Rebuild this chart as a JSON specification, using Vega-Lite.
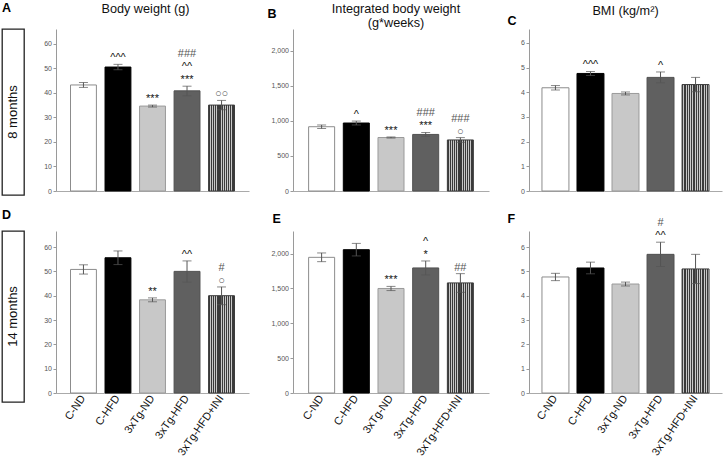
{
  "$schema": "https://vega.github.io/schema/vega-lite/v6.json",
  "padding": {"top": 0, "left": 1, "right": 2, "bottom": 0},
  "background": "white",
  "datasets": {
    "bars": [
      {"id": "A|C-ND", "panel": "A", "group": "C-ND", "mean": 43.2, "lo": 42.2, "hi": 44.2},
      {"id": "A|C-HFD", "panel": "A", "group": "C-HFD", "mean": 50.5, "lo": 49.4, "hi": 51.6},
      {"id": "A|3xTg-ND", "panel": "A", "group": "3xTg-ND", "mean": 34.6, "lo": 34.2, "hi": 35.0},
      {"id": "A|3xTg-HFD", "panel": "A", "group": "3xTg-HFD", "mean": 40.8, "lo": 38.8, "hi": 42.7},
      {"id": "A|3xTg-HFD+INI", "panel": "A", "group": "3xTg-HFD+INI", "mean": 35.0, "lo": 33.1, "hi": 36.9},
      {"id": "B|C-ND", "panel": "B", "group": "C-ND", "mean": 918, "lo": 893, "hi": 943},
      {"id": "B|C-HFD", "panel": "B", "group": "C-HFD", "mean": 971, "lo": 943, "hi": 999},
      {"id": "B|3xTg-ND", "panel": "B", "group": "3xTg-ND", "mean": 764, "lo": 756, "hi": 772},
      {"id": "B|3xTg-HFD", "panel": "B", "group": "3xTg-HFD", "mean": 808, "lo": 780, "hi": 836},
      {"id": "B|3xTg-HFD+INI", "panel": "B", "group": "3xTg-HFD+INI", "mean": 729, "lo": 695, "hi": 763},
      {"id": "C|C-ND", "panel": "C", "group": "C-ND", "mean": 4.18, "lo": 4.09, "hi": 4.27},
      {"id": "C|C-HFD", "panel": "C", "group": "C-HFD", "mean": 4.76, "lo": 4.68, "hi": 4.84},
      {"id": "C|3xTg-ND", "panel": "C", "group": "3xTg-ND", "mean": 3.95, "lo": 3.89, "hi": 4.01},
      {"id": "C|3xTg-HFD", "panel": "C", "group": "3xTg-HFD", "mean": 4.6, "lo": 4.38, "hi": 4.82},
      {"id": "C|3xTg-HFD+INI", "panel": "C", "group": "3xTg-HFD+INI", "mean": 4.31, "lo": 4.02, "hi": 4.6},
      {"id": "D|C-ND", "panel": "D", "group": "C-ND", "mean": 50.8, "lo": 48.9, "hi": 52.7},
      {"id": "D|C-HFD", "panel": "D", "group": "C-HFD", "mean": 55.6, "lo": 52.8, "hi": 58.4},
      {"id": "D|3xTg-ND", "panel": "D", "group": "3xTg-ND", "mean": 38.3, "lo": 37.5, "hi": 39.1},
      {"id": "D|3xTg-HFD", "panel": "D", "group": "3xTg-HFD", "mean": 50.0, "lo": 45.6, "hi": 54.3},
      {"id": "D|3xTg-HFD+INI", "panel": "D", "group": "3xTg-HFD+INI", "mean": 40.0, "lo": 36.3, "hi": 43.6},
      {"id": "E|C-ND", "panel": "E", "group": "C-ND", "mean": 1947, "lo": 1885, "hi": 2010},
      {"id": "E|C-HFD", "panel": "E", "group": "C-HFD", "mean": 2057, "lo": 1967, "hi": 2147},
      {"id": "E|3xTg-ND", "panel": "E", "group": "3xTg-ND", "mean": 1500, "lo": 1470, "hi": 1530},
      {"id": "E|3xTg-HFD", "panel": "E", "group": "3xTg-HFD", "mean": 1795, "lo": 1695, "hi": 1895},
      {"id": "E|3xTg-HFD+INI", "panel": "E", "group": "3xTg-HFD+INI", "mean": 1580, "lo": 1445, "hi": 1713},
      {"id": "F|C-ND", "panel": "F", "group": "C-ND", "mean": 4.77, "lo": 4.62, "hi": 4.92},
      {"id": "F|C-HFD", "panel": "F", "group": "C-HFD", "mean": 5.14, "lo": 4.9, "hi": 5.38},
      {"id": "F|3xTg-ND", "panel": "F", "group": "3xTg-ND", "mean": 4.48, "lo": 4.4, "hi": 4.56},
      {"id": "F|3xTg-HFD", "panel": "F", "group": "3xTg-HFD", "mean": 5.7, "lo": 5.2, "hi": 6.2},
      {"id": "F|3xTg-HFD+INI", "panel": "F", "group": "3xTg-HFD+INI", "mean": 5.1, "lo": 4.5, "hi": 5.7}
    ],
    "ann": [
      {"id": "A|C-HFD", "panel": "A", "sym": "^^^", "lvl": 0},
      {"id": "A|3xTg-ND", "panel": "A", "sym": "***", "lvl": 0},
      {"id": "A|3xTg-HFD", "panel": "A", "sym": "***", "lvl": 0},
      {"id": "A|3xTg-HFD", "panel": "A", "sym": "^^", "lvl": 1},
      {"id": "A|3xTg-HFD", "panel": "A", "sym": "###", "lvl": 2},
      {"id": "A|3xTg-HFD+INI", "panel": "A", "sym": "○○", "lvl": 0},
      {"id": "B|C-HFD", "panel": "B", "sym": "^", "lvl": 0},
      {"id": "B|3xTg-ND", "panel": "B", "sym": "***", "lvl": 0},
      {"id": "B|3xTg-HFD", "panel": "B", "sym": "***", "lvl": 0},
      {"id": "B|3xTg-HFD", "panel": "B", "sym": "###", "lvl": 1},
      {"id": "B|3xTg-HFD+INI", "panel": "B", "sym": "○", "lvl": 0},
      {"id": "B|3xTg-HFD+INI", "panel": "B", "sym": "###", "lvl": 1},
      {"id": "C|C-HFD", "panel": "C", "sym": "^^^", "lvl": 0},
      {"id": "C|3xTg-HFD", "panel": "C", "sym": "^", "lvl": 0},
      {"id": "D|3xTg-ND", "panel": "D", "sym": "**", "lvl": 0},
      {"id": "D|3xTg-HFD", "panel": "D", "sym": "^^", "lvl": 0},
      {"id": "D|3xTg-HFD+INI", "panel": "D", "sym": "○", "lvl": 0},
      {"id": "D|3xTg-HFD+INI", "panel": "D", "sym": "#", "lvl": 1},
      {"id": "E|3xTg-ND", "panel": "E", "sym": "***", "lvl": 0},
      {"id": "E|3xTg-HFD", "panel": "E", "sym": "*", "lvl": 0},
      {"id": "E|3xTg-HFD", "panel": "E", "sym": "^", "lvl": 1},
      {"id": "E|3xTg-HFD+INI", "panel": "E", "sym": "##", "lvl": 0},
      {"id": "F|3xTg-HFD", "panel": "F", "sym": "^^", "lvl": 0},
      {"id": "F|3xTg-HFD", "panel": "F", "sym": "#", "lvl": 1}
    ]
  },
  "columns": 4,
  "align": "each",
  "spacing": {"row": 11, "column": 18},
  "concat": [
    {
      "width": 22, "height": 166,
      "view": {"stroke": "#222", "strokeWidth": 1.3},
      "title": {"text": "A", "anchor": "start", "fontWeight": "bold", "fontSize": 12.5, "offset": 15, "color": "#000"},
      "data": {"values": [{"label": "8 months"}]},
      "mark": {"type": "text", "angle": 270, "fontSize": 13, "color": "#111"},
      "encoding": {"text": {"field": "label"}}
    },
    {
      "width": 193, "height": 162,
      "title": {"text": "Body weight (g)", "offset": 13, "dx": -7},
      "resolve": {"axis": {"y": "independent"}},
      "encoding": {"x": {"field": "group", "type": "nominal", "scale": {"domain": ["C-ND","C-HFD","3xTg-ND","3xTg-HFD","3xTg-HFD+INI"], "paddingInner": 0.25, "paddingOuter": 0.42}, "axis": {"title": null, "labels": false, "ticks": false, "domainColor": "#aaaaaa", "domainWidth": 1.2}}},
      "layer": [
        {"data": {"name": "bars"}, "transform": [{"filter": "datum.panel === 'A' && datum.group !== '3xTg-HFD+INI'"}],
         "mark": {"type": "bar", "strokeWidth": 1},
         "encoding": {
           "y": {"field": "mean", "type": "quantitative", "scale": {"domain": [0, 66], "nice": false}, "axis": {"title": null, "values": [0,10,20,30,40,50,60]}},
           "fill": {"field": "group", "type": "nominal", "scale": {"domain": ["C-ND","C-HFD","3xTg-ND","3xTg-HFD","3xTg-HFD+INI"], "range": ["#ffffff","#000000","#c8c8c8","#606060","#666666"]}, "legend": null},
           "stroke": {"field": "group", "type": "nominal", "scale": {"domain": ["C-ND","C-HFD","3xTg-ND","3xTg-HFD","3xTg-HFD+INI"], "range": ["#8c8c8c","#000000","#9a9a9a","#505050","#3a3a3a"]}, "legend": null}}},
        {"data": {"name": "bars"}, "transform": [{"filter": "datum.panel === 'A' && datum.group === '3xTg-HFD+INI'"}],
         "mark": {"type": "bar", "stroke": "#3a3a3a", "strokeWidth": 1, "fill": {"gradient": "linear", "x1": 0, "y1": 0, "x2": 1, "y2": 0, "stops": [{"offset": 0, "color": "#3a3a3a"}, {"offset": 0.05, "color": "#3a3a3a"}, {"offset": 0.05, "color": "#c8c8c8"}, {"offset": 0.0833, "color": "#c8c8c8"}, {"offset": 0.0833, "color": "#3a3a3a"}, {"offset": 0.1333, "color": "#3a3a3a"}, {"offset": 0.1333, "color": "#c8c8c8"}, {"offset": 0.1667, "color": "#c8c8c8"}, {"offset": 0.1667, "color": "#3a3a3a"}, {"offset": 0.2167, "color": "#3a3a3a"}, {"offset": 0.2167, "color": "#c8c8c8"}, {"offset": 0.25, "color": "#c8c8c8"}, {"offset": 0.25, "color": "#3a3a3a"}, {"offset": 0.3, "color": "#3a3a3a"}, {"offset": 0.3, "color": "#c8c8c8"}, {"offset": 0.3333, "color": "#c8c8c8"}, {"offset": 0.3333, "color": "#3a3a3a"}, {"offset": 0.3833, "color": "#3a3a3a"}, {"offset": 0.3833, "color": "#c8c8c8"}, {"offset": 0.4167, "color": "#c8c8c8"}, {"offset": 0.4167, "color": "#3a3a3a"}, {"offset": 0.4667, "color": "#3a3a3a"}, {"offset": 0.4667, "color": "#c8c8c8"}, {"offset": 0.5, "color": "#c8c8c8"}, {"offset": 0.5, "color": "#3a3a3a"}, {"offset": 0.55, "color": "#3a3a3a"}, {"offset": 0.55, "color": "#c8c8c8"}, {"offset": 0.5833, "color": "#c8c8c8"}, {"offset": 0.5833, "color": "#3a3a3a"}, {"offset": 0.6333, "color": "#3a3a3a"}, {"offset": 0.6333, "color": "#c8c8c8"}, {"offset": 0.6667, "color": "#c8c8c8"}, {"offset": 0.6667, "color": "#3a3a3a"}, {"offset": 0.7167, "color": "#3a3a3a"}, {"offset": 0.7167, "color": "#c8c8c8"}, {"offset": 0.75, "color": "#c8c8c8"}, {"offset": 0.75, "color": "#3a3a3a"}, {"offset": 0.8, "color": "#3a3a3a"}, {"offset": 0.8, "color": "#c8c8c8"}, {"offset": 0.8333, "color": "#c8c8c8"}, {"offset": 0.8333, "color": "#3a3a3a"}, {"offset": 0.8833, "color": "#3a3a3a"}, {"offset": 0.8833, "color": "#c8c8c8"}, {"offset": 0.9167, "color": "#c8c8c8"}, {"offset": 0.9167, "color": "#3a3a3a"}, {"offset": 0.9667, "color": "#3a3a3a"}, {"offset": 0.9667, "color": "#c8c8c8"}, {"offset": 1, "color": "#c8c8c8"}]}},
         "encoding": {"y": {"field": "mean", "type": "quantitative", "axis": null}}},
        {"data": {"name": "bars"}, "transform": [{"filter": "datum.panel === 'A'"}],
         "mark": {"type": "errorbar", "ticks": {"size": 9}, "color": "#555", "thickness": 1},
         "encoding": {"y": {"field": "lo", "type": "quantitative", "axis": null}, "y2": {"field": "hi"}}},
        {"data": {"name": "ann"}, "transform": [{"filter": "datum.panel === 'A' && datum.lvl === 0"}, {"lookup": "id", "from": {"data": {"name": "bars"}, "key": "id", "fields": ["hi", "group"]}}],
         "mark": {"type": "text", "style": "ann", "dy": -3},
         "encoding": {"y": {"field": "hi", "type": "quantitative", "axis": null}, "text": {"field": "sym"},
           "fontSize": {"condition": [{"test": "indexof(datum.sym,'^')>=0", "value": 15}, {"test": "indexof(datum.sym,'*')>=0", "value": 12}, {"test": "indexof(datum.sym,'#')>=0", "value": 9}], "value": 8},
           "color": {"condition": {"test": "indexof(datum.sym,'#')>=0 || indexof(datum.sym,'○')>=0", "value": "#555555"}, "value": "#111111"}}},
        {"data": {"name": "ann"}, "transform": [{"filter": "datum.panel === 'A' && datum.lvl === 1"}, {"lookup": "id", "from": {"data": {"name": "bars"}, "key": "id", "fields": ["hi", "group"]}}],
         "mark": {"type": "text", "style": "ann", "dy": -16},
         "encoding": {"y": {"field": "hi", "type": "quantitative", "axis": null}, "text": {"field": "sym"},
           "fontSize": {"condition": [{"test": "indexof(datum.sym,'^')>=0", "value": 15}, {"test": "indexof(datum.sym,'*')>=0", "value": 12}, {"test": "indexof(datum.sym,'#')>=0", "value": 9}], "value": 8},
           "color": {"condition": {"test": "indexof(datum.sym,'#')>=0 || indexof(datum.sym,'○')>=0", "value": "#555555"}, "value": "#111111"}}},
        {"data": {"name": "ann"}, "transform": [{"filter": "datum.panel === 'A' && datum.lvl === 2"}, {"lookup": "id", "from": {"data": {"name": "bars"}, "key": "id", "fields": ["hi", "group"]}}],
         "mark": {"type": "text", "style": "ann", "dy": -29},
         "encoding": {"y": {"field": "hi", "type": "quantitative", "axis": null}, "text": {"field": "sym"},
           "fontSize": {"condition": [{"test": "indexof(datum.sym,'^')>=0", "value": 15}, {"test": "indexof(datum.sym,'*')>=0", "value": 12}, {"test": "indexof(datum.sym,'#')>=0", "value": 9}], "value": 8},
           "color": {"condition": {"test": "indexof(datum.sym,'#')>=0 || indexof(datum.sym,'○')>=0", "value": "#555555"}, "value": "#111111"}}}
      ]
    },
    {
      "width": 196, "height": 162,
      "title": {"text": ["Integrated body weight", "(g*weeks)"], "offset": -23, "dx": 5},
      "resolve": {"axis": {"y": "independent"}},
      "encoding": {"x": {"field": "group", "type": "nominal", "scale": {"domain": ["C-ND","C-HFD","3xTg-ND","3xTg-HFD","3xTg-HFD+INI"], "paddingInner": 0.25, "paddingOuter": 0.45}, "axis": {"title": null, "labels": false, "ticks": false, "domainColor": "#aaaaaa", "domainWidth": 1.2}}},
      "layer": [
        {"data": {"name": "bars"}, "transform": [{"filter": "datum.panel === 'B' && datum.group !== '3xTg-HFD+INI'"}],
         "mark": {"type": "bar", "strokeWidth": 1},
         "encoding": {
           "y": {"field": "mean", "type": "quantitative", "scale": {"domain": [0, 2314], "nice": false}, "axis": {"title": "B", "values": [0,500,1000,1500,2000], "format": ",.0f", "titleAngle": 0, "titleX": -26, "titleY": -12, "titleAlign": "left", "titleBaseline": "alphabetic", "titleFontSize": 12.5, "titleFontWeight": "bold", "titleColor": "#000"}},
           "fill": {"field": "group", "type": "nominal", "scale": {"domain": ["C-ND","C-HFD","3xTg-ND","3xTg-HFD","3xTg-HFD+INI"], "range": ["#ffffff","#000000","#c8c8c8","#606060","#666666"]}, "legend": null},
           "stroke": {"field": "group", "type": "nominal", "scale": {"domain": ["C-ND","C-HFD","3xTg-ND","3xTg-HFD","3xTg-HFD+INI"], "range": ["#8c8c8c","#000000","#9a9a9a","#505050","#3a3a3a"]}, "legend": null}}},
        {"data": {"name": "bars"}, "transform": [{"filter": "datum.panel === 'B' && datum.group === '3xTg-HFD+INI'"}],
         "mark": {"type": "bar", "stroke": "#3a3a3a", "strokeWidth": 1, "fill": {"gradient": "linear", "x1": 0, "y1": 0, "x2": 1, "y2": 0, "stops": [{"offset": 0, "color": "#3a3a3a"}, {"offset": 0.05, "color": "#3a3a3a"}, {"offset": 0.05, "color": "#c8c8c8"}, {"offset": 0.0833, "color": "#c8c8c8"}, {"offset": 0.0833, "color": "#3a3a3a"}, {"offset": 0.1333, "color": "#3a3a3a"}, {"offset": 0.1333, "color": "#c8c8c8"}, {"offset": 0.1667, "color": "#c8c8c8"}, {"offset": 0.1667, "color": "#3a3a3a"}, {"offset": 0.2167, "color": "#3a3a3a"}, {"offset": 0.2167, "color": "#c8c8c8"}, {"offset": 0.25, "color": "#c8c8c8"}, {"offset": 0.25, "color": "#3a3a3a"}, {"offset": 0.3, "color": "#3a3a3a"}, {"offset": 0.3, "color": "#c8c8c8"}, {"offset": 0.3333, "color": "#c8c8c8"}, {"offset": 0.3333, "color": "#3a3a3a"}, {"offset": 0.3833, "color": "#3a3a3a"}, {"offset": 0.3833, "color": "#c8c8c8"}, {"offset": 0.4167, "color": "#c8c8c8"}, {"offset": 0.4167, "color": "#3a3a3a"}, {"offset": 0.4667, "color": "#3a3a3a"}, {"offset": 0.4667, "color": "#c8c8c8"}, {"offset": 0.5, "color": "#c8c8c8"}, {"offset": 0.5, "color": "#3a3a3a"}, {"offset": 0.55, "color": "#3a3a3a"}, {"offset": 0.55, "color": "#c8c8c8"}, {"offset": 0.5833, "color": "#c8c8c8"}, {"offset": 0.5833, "color": "#3a3a3a"}, {"offset": 0.6333, "color": "#3a3a3a"}, {"offset": 0.6333, "color": "#c8c8c8"}, {"offset": 0.6667, "color": "#c8c8c8"}, {"offset": 0.6667, "color": "#3a3a3a"}, {"offset": 0.7167, "color": "#3a3a3a"}, {"offset": 0.7167, "color": "#c8c8c8"}, {"offset": 0.75, "color": "#c8c8c8"}, {"offset": 0.75, "color": "#3a3a3a"}, {"offset": 0.8, "color": "#3a3a3a"}, {"offset": 0.8, "color": "#c8c8c8"}, {"offset": 0.8333, "color": "#c8c8c8"}, {"offset": 0.8333, "color": "#3a3a3a"}, {"offset": 0.8833, "color": "#3a3a3a"}, {"offset": 0.8833, "color": "#c8c8c8"}, {"offset": 0.9167, "color": "#c8c8c8"}, {"offset": 0.9167, "color": "#3a3a3a"}, {"offset": 0.9667, "color": "#3a3a3a"}, {"offset": 0.9667, "color": "#c8c8c8"}, {"offset": 1, "color": "#c8c8c8"}]}},
         "encoding": {"y": {"field": "mean", "type": "quantitative", "axis": null}}},
        {"data": {"name": "bars"}, "transform": [{"filter": "datum.panel === 'B'"}],
         "mark": {"type": "errorbar", "ticks": {"size": 9}, "color": "#555", "thickness": 1},
         "encoding": {"y": {"field": "lo", "type": "quantitative", "axis": null}, "y2": {"field": "hi"}}},
        {"data": {"name": "ann"}, "transform": [{"filter": "datum.panel === 'B' && datum.lvl === 0"}, {"lookup": "id", "from": {"data": {"name": "bars"}, "key": "id", "fields": ["hi", "group"]}}],
         "mark": {"type": "text", "style": "ann", "dy": -3},
         "encoding": {"y": {"field": "hi", "type": "quantitative", "axis": null}, "text": {"field": "sym"},
           "fontSize": {"condition": [{"test": "indexof(datum.sym,'^')>=0", "value": 15}, {"test": "indexof(datum.sym,'*')>=0", "value": 12}, {"test": "indexof(datum.sym,'#')>=0", "value": 9}], "value": 8},
           "color": {"condition": {"test": "indexof(datum.sym,'#')>=0 || indexof(datum.sym,'○')>=0", "value": "#555555"}, "value": "#111111"}}},
        {"data": {"name": "ann"}, "transform": [{"filter": "datum.panel === 'B' && datum.lvl === 1"}, {"lookup": "id", "from": {"data": {"name": "bars"}, "key": "id", "fields": ["hi", "group"]}}],
         "mark": {"type": "text", "style": "ann", "dy": -16},
         "encoding": {"y": {"field": "hi", "type": "quantitative", "axis": null}, "text": {"field": "sym"},
           "fontSize": {"condition": [{"test": "indexof(datum.sym,'^')>=0", "value": 15}, {"test": "indexof(datum.sym,'*')>=0", "value": 12}, {"test": "indexof(datum.sym,'#')>=0", "value": 9}], "value": 8},
           "color": {"condition": {"test": "indexof(datum.sym,'#')>=0 || indexof(datum.sym,'○')>=0", "value": "#555555"}, "value": "#111111"}}}
      ]
    },
    {
      "width": 193, "height": 162,
      "title": {"text": "BMI (kg/m²)", "offset": -4, "dx": 0},
      "resolve": {"axis": {"y": "independent"}},
      "encoding": {"x": {"field": "group", "type": "nominal", "scale": {"domain": ["C-ND","C-HFD","3xTg-ND","3xTg-HFD","3xTg-HFD+INI"], "paddingInner": 0.23, "paddingOuter": 0.37}, "axis": {"title": null, "labels": false, "ticks": false, "domainColor": "#aaaaaa", "domainWidth": 1.2}}},
      "layer": [
        {"data": {"name": "bars"}, "transform": [{"filter": "datum.panel === 'C' && datum.group !== '3xTg-HFD+INI'"}],
         "mark": {"type": "bar", "strokeWidth": 1},
         "encoding": {
           "y": {"field": "mean", "type": "quantitative", "scale": {"domain": [0, 6.56], "nice": false}, "axis": {"title": "C", "values": [0,1,2,3,4,5,6], "titleAngle": 0, "titleX": -22, "titleY": -5, "titleAlign": "left", "titleBaseline": "alphabetic", "titleFontSize": 12.5, "titleFontWeight": "bold", "titleColor": "#000"}},
           "fill": {"field": "group", "type": "nominal", "scale": {"domain": ["C-ND","C-HFD","3xTg-ND","3xTg-HFD","3xTg-HFD+INI"], "range": ["#ffffff","#000000","#c8c8c8","#606060","#666666"]}, "legend": null},
           "stroke": {"field": "group", "type": "nominal", "scale": {"domain": ["C-ND","C-HFD","3xTg-ND","3xTg-HFD","3xTg-HFD+INI"], "range": ["#8c8c8c","#000000","#9a9a9a","#505050","#3a3a3a"]}, "legend": null}}},
        {"data": {"name": "bars"}, "transform": [{"filter": "datum.panel === 'C' && datum.group === '3xTg-HFD+INI'"}],
         "mark": {"type": "bar", "stroke": "#3a3a3a", "strokeWidth": 1, "fill": {"gradient": "linear", "x1": 0, "y1": 0, "x2": 1, "y2": 0, "stops": [{"offset": 0, "color": "#3a3a3a"}, {"offset": 0.05, "color": "#3a3a3a"}, {"offset": 0.05, "color": "#c8c8c8"}, {"offset": 0.0833, "color": "#c8c8c8"}, {"offset": 0.0833, "color": "#3a3a3a"}, {"offset": 0.1333, "color": "#3a3a3a"}, {"offset": 0.1333, "color": "#c8c8c8"}, {"offset": 0.1667, "color": "#c8c8c8"}, {"offset": 0.1667, "color": "#3a3a3a"}, {"offset": 0.2167, "color": "#3a3a3a"}, {"offset": 0.2167, "color": "#c8c8c8"}, {"offset": 0.25, "color": "#c8c8c8"}, {"offset": 0.25, "color": "#3a3a3a"}, {"offset": 0.3, "color": "#3a3a3a"}, {"offset": 0.3, "color": "#c8c8c8"}, {"offset": 0.3333, "color": "#c8c8c8"}, {"offset": 0.3333, "color": "#3a3a3a"}, {"offset": 0.3833, "color": "#3a3a3a"}, {"offset": 0.3833, "color": "#c8c8c8"}, {"offset": 0.4167, "color": "#c8c8c8"}, {"offset": 0.4167, "color": "#3a3a3a"}, {"offset": 0.4667, "color": "#3a3a3a"}, {"offset": 0.4667, "color": "#c8c8c8"}, {"offset": 0.5, "color": "#c8c8c8"}, {"offset": 0.5, "color": "#3a3a3a"}, {"offset": 0.55, "color": "#3a3a3a"}, {"offset": 0.55, "color": "#c8c8c8"}, {"offset": 0.5833, "color": "#c8c8c8"}, {"offset": 0.5833, "color": "#3a3a3a"}, {"offset": 0.6333, "color": "#3a3a3a"}, {"offset": 0.6333, "color": "#c8c8c8"}, {"offset": 0.6667, "color": "#c8c8c8"}, {"offset": 0.6667, "color": "#3a3a3a"}, {"offset": 0.7167, "color": "#3a3a3a"}, {"offset": 0.7167, "color": "#c8c8c8"}, {"offset": 0.75, "color": "#c8c8c8"}, {"offset": 0.75, "color": "#3a3a3a"}, {"offset": 0.8, "color": "#3a3a3a"}, {"offset": 0.8, "color": "#c8c8c8"}, {"offset": 0.8333, "color": "#c8c8c8"}, {"offset": 0.8333, "color": "#3a3a3a"}, {"offset": 0.8833, "color": "#3a3a3a"}, {"offset": 0.8833, "color": "#c8c8c8"}, {"offset": 0.9167, "color": "#c8c8c8"}, {"offset": 0.9167, "color": "#3a3a3a"}, {"offset": 0.9667, "color": "#3a3a3a"}, {"offset": 0.9667, "color": "#c8c8c8"}, {"offset": 1, "color": "#c8c8c8"}]}},
         "encoding": {"y": {"field": "mean", "type": "quantitative", "axis": null}}},
        {"data": {"name": "bars"}, "transform": [{"filter": "datum.panel === 'C'"}],
         "mark": {"type": "errorbar", "ticks": {"size": 9}, "color": "#555", "thickness": 1},
         "encoding": {"y": {"field": "lo", "type": "quantitative", "axis": null}, "y2": {"field": "hi"}}},
        {"data": {"name": "ann"}, "transform": [{"filter": "datum.panel === 'C' && datum.lvl === 0"}, {"lookup": "id", "from": {"data": {"name": "bars"}, "key": "id", "fields": ["hi", "group"]}}],
         "mark": {"type": "text", "style": "ann", "dy": -3},
         "encoding": {"y": {"field": "hi", "type": "quantitative", "axis": null}, "text": {"field": "sym"},
           "fontSize": {"condition": [{"test": "indexof(datum.sym,'^')>=0", "value": 15}, {"test": "indexof(datum.sym,'*')>=0", "value": 12}, {"test": "indexof(datum.sym,'#')>=0", "value": 9}], "value": 8},
           "color": {"condition": {"test": "indexof(datum.sym,'#')>=0 || indexof(datum.sym,'○')>=0", "value": "#555555"}, "value": "#111111"}}}
      ]
    },
    {
      "width": 22, "height": 171,
      "view": {"stroke": "#222", "strokeWidth": 1.3},
      "title": {"text": "D", "anchor": "start", "fontWeight": "bold", "fontSize": 12.5, "offset": 10, "color": "#000"},
      "data": {"values": [{"label": "14 months"}]},
      "mark": {"type": "text", "angle": 270, "fontSize": 13, "color": "#111"},
      "encoding": {"text": {"field": "label"}}
    },
    {
      "width": 193, "height": 162,
      "resolve": {"axis": {"y": "independent"}},
      "encoding": {"x": {"field": "group", "type": "nominal", "scale": {"domain": ["C-ND","C-HFD","3xTg-ND","3xTg-HFD","3xTg-HFD+INI"], "paddingInner": 0.25, "paddingOuter": 0.42}, "axis": {"title": null, "labelAngle": -55, "labelFontSize": 11, "labelColor": "#111", "labelPadding": 3, "ticks": false, "domainColor": "#aaaaaa", "domainWidth": 1.2}}},
      "layer": [
        {"data": {"name": "bars"}, "transform": [{"filter": "datum.panel === 'D' && datum.group !== '3xTg-HFD+INI'"}],
         "mark": {"type": "bar", "strokeWidth": 1},
         "encoding": {
           "y": {"field": "mean", "type": "quantitative", "scale": {"domain": [0, 66.6], "nice": false}, "axis": {"title": null, "values": [0,10,20,30,40,50,60]}},
           "fill": {"field": "group", "type": "nominal", "scale": {"domain": ["C-ND","C-HFD","3xTg-ND","3xTg-HFD","3xTg-HFD+INI"], "range": ["#ffffff","#000000","#c8c8c8","#606060","#666666"]}, "legend": null},
           "stroke": {"field": "group", "type": "nominal", "scale": {"domain": ["C-ND","C-HFD","3xTg-ND","3xTg-HFD","3xTg-HFD+INI"], "range": ["#8c8c8c","#000000","#9a9a9a","#505050","#3a3a3a"]}, "legend": null}}},
        {"data": {"name": "bars"}, "transform": [{"filter": "datum.panel === 'D' && datum.group === '3xTg-HFD+INI'"}],
         "mark": {"type": "bar", "stroke": "#3a3a3a", "strokeWidth": 1, "fill": {"gradient": "linear", "x1": 0, "y1": 0, "x2": 1, "y2": 0, "stops": [{"offset": 0, "color": "#3a3a3a"}, {"offset": 0.05, "color": "#3a3a3a"}, {"offset": 0.05, "color": "#c8c8c8"}, {"offset": 0.0833, "color": "#c8c8c8"}, {"offset": 0.0833, "color": "#3a3a3a"}, {"offset": 0.1333, "color": "#3a3a3a"}, {"offset": 0.1333, "color": "#c8c8c8"}, {"offset": 0.1667, "color": "#c8c8c8"}, {"offset": 0.1667, "color": "#3a3a3a"}, {"offset": 0.2167, "color": "#3a3a3a"}, {"offset": 0.2167, "color": "#c8c8c8"}, {"offset": 0.25, "color": "#c8c8c8"}, {"offset": 0.25, "color": "#3a3a3a"}, {"offset": 0.3, "color": "#3a3a3a"}, {"offset": 0.3, "color": "#c8c8c8"}, {"offset": 0.3333, "color": "#c8c8c8"}, {"offset": 0.3333, "color": "#3a3a3a"}, {"offset": 0.3833, "color": "#3a3a3a"}, {"offset": 0.3833, "color": "#c8c8c8"}, {"offset": 0.4167, "color": "#c8c8c8"}, {"offset": 0.4167, "color": "#3a3a3a"}, {"offset": 0.4667, "color": "#3a3a3a"}, {"offset": 0.4667, "color": "#c8c8c8"}, {"offset": 0.5, "color": "#c8c8c8"}, {"offset": 0.5, "color": "#3a3a3a"}, {"offset": 0.55, "color": "#3a3a3a"}, {"offset": 0.55, "color": "#c8c8c8"}, {"offset": 0.5833, "color": "#c8c8c8"}, {"offset": 0.5833, "color": "#3a3a3a"}, {"offset": 0.6333, "color": "#3a3a3a"}, {"offset": 0.6333, "color": "#c8c8c8"}, {"offset": 0.6667, "color": "#c8c8c8"}, {"offset": 0.6667, "color": "#3a3a3a"}, {"offset": 0.7167, "color": "#3a3a3a"}, {"offset": 0.7167, "color": "#c8c8c8"}, {"offset": 0.75, "color": "#c8c8c8"}, {"offset": 0.75, "color": "#3a3a3a"}, {"offset": 0.8, "color": "#3a3a3a"}, {"offset": 0.8, "color": "#c8c8c8"}, {"offset": 0.8333, "color": "#c8c8c8"}, {"offset": 0.8333, "color": "#3a3a3a"}, {"offset": 0.8833, "color": "#3a3a3a"}, {"offset": 0.8833, "color": "#c8c8c8"}, {"offset": 0.9167, "color": "#c8c8c8"}, {"offset": 0.9167, "color": "#3a3a3a"}, {"offset": 0.9667, "color": "#3a3a3a"}, {"offset": 0.9667, "color": "#c8c8c8"}, {"offset": 1, "color": "#c8c8c8"}]}},
         "encoding": {"y": {"field": "mean", "type": "quantitative", "axis": null}}},
        {"data": {"name": "bars"}, "transform": [{"filter": "datum.panel === 'D'"}],
         "mark": {"type": "errorbar", "ticks": {"size": 9}, "color": "#555", "thickness": 1},
         "encoding": {"y": {"field": "lo", "type": "quantitative", "axis": null}, "y2": {"field": "hi"}}},
        {"data": {"name": "ann"}, "transform": [{"filter": "datum.panel === 'D' && datum.lvl === 0"}, {"lookup": "id", "from": {"data": {"name": "bars"}, "key": "id", "fields": ["hi", "group"]}}],
         "mark": {"type": "text", "style": "ann", "dy": -3},
         "encoding": {"y": {"field": "hi", "type": "quantitative", "axis": null}, "text": {"field": "sym"},
           "fontSize": {"condition": [{"test": "indexof(datum.sym,'^')>=0", "value": 15}, {"test": "indexof(datum.sym,'*')>=0", "value": 12}, {"test": "indexof(datum.sym,'#')>=0", "value": 9}], "value": 8},
           "color": {"condition": {"test": "indexof(datum.sym,'#')>=0 || indexof(datum.sym,'○')>=0", "value": "#555555"}, "value": "#111111"}}},
        {"data": {"name": "ann"}, "transform": [{"filter": "datum.panel === 'D' && datum.lvl === 1"}, {"lookup": "id", "from": {"data": {"name": "bars"}, "key": "id", "fields": ["hi", "group"]}}],
         "mark": {"type": "text", "style": "ann", "dy": -16},
         "encoding": {"y": {"field": "hi", "type": "quantitative", "axis": null}, "text": {"field": "sym"},
           "fontSize": {"condition": [{"test": "indexof(datum.sym,'^')>=0", "value": 15}, {"test": "indexof(datum.sym,'*')>=0", "value": 12}, {"test": "indexof(datum.sym,'#')>=0", "value": 9}], "value": 8},
           "color": {"condition": {"test": "indexof(datum.sym,'#')>=0 || indexof(datum.sym,'○')>=0", "value": "#555555"}, "value": "#111111"}}}
      ]
    },
    {
      "width": 196, "height": 162,
      "resolve": {"axis": {"y": "independent"}},
      "encoding": {"x": {"field": "group", "type": "nominal", "scale": {"domain": ["C-ND","C-HFD","3xTg-ND","3xTg-HFD","3xTg-HFD+INI"], "paddingInner": 0.25, "paddingOuter": 0.45}, "axis": {"title": null, "labelAngle": -55, "labelFontSize": 11, "labelColor": "#111", "labelPadding": 3, "ticks": false, "domainColor": "#aaaaaa", "domainWidth": 1.2}}},
      "layer": [
        {"data": {"name": "bars"}, "transform": [{"filter": "datum.panel === 'E' && datum.group !== '3xTg-HFD+INI'"}],
         "mark": {"type": "bar", "strokeWidth": 1},
         "encoding": {
           "y": {"field": "mean", "type": "quantitative", "scale": {"domain": [0, 2325], "nice": false}, "axis": {"title": "E", "values": [0,500,1000,1500,2000], "format": ",.0f", "titleAngle": 0, "titleX": -21, "titleY": -9, "titleAlign": "left", "titleBaseline": "alphabetic", "titleFontSize": 12.5, "titleFontWeight": "bold", "titleColor": "#000"}},
           "fill": {"field": "group", "type": "nominal", "scale": {"domain": ["C-ND","C-HFD","3xTg-ND","3xTg-HFD","3xTg-HFD+INI"], "range": ["#ffffff","#000000","#c8c8c8","#606060","#666666"]}, "legend": null},
           "stroke": {"field": "group", "type": "nominal", "scale": {"domain": ["C-ND","C-HFD","3xTg-ND","3xTg-HFD","3xTg-HFD+INI"], "range": ["#8c8c8c","#000000","#9a9a9a","#505050","#3a3a3a"]}, "legend": null}}},
        {"data": {"name": "bars"}, "transform": [{"filter": "datum.panel === 'E' && datum.group === '3xTg-HFD+INI'"}],
         "mark": {"type": "bar", "stroke": "#3a3a3a", "strokeWidth": 1, "fill": {"gradient": "linear", "x1": 0, "y1": 0, "x2": 1, "y2": 0, "stops": [{"offset": 0, "color": "#3a3a3a"}, {"offset": 0.05, "color": "#3a3a3a"}, {"offset": 0.05, "color": "#c8c8c8"}, {"offset": 0.0833, "color": "#c8c8c8"}, {"offset": 0.0833, "color": "#3a3a3a"}, {"offset": 0.1333, "color": "#3a3a3a"}, {"offset": 0.1333, "color": "#c8c8c8"}, {"offset": 0.1667, "color": "#c8c8c8"}, {"offset": 0.1667, "color": "#3a3a3a"}, {"offset": 0.2167, "color": "#3a3a3a"}, {"offset": 0.2167, "color": "#c8c8c8"}, {"offset": 0.25, "color": "#c8c8c8"}, {"offset": 0.25, "color": "#3a3a3a"}, {"offset": 0.3, "color": "#3a3a3a"}, {"offset": 0.3, "color": "#c8c8c8"}, {"offset": 0.3333, "color": "#c8c8c8"}, {"offset": 0.3333, "color": "#3a3a3a"}, {"offset": 0.3833, "color": "#3a3a3a"}, {"offset": 0.3833, "color": "#c8c8c8"}, {"offset": 0.4167, "color": "#c8c8c8"}, {"offset": 0.4167, "color": "#3a3a3a"}, {"offset": 0.4667, "color": "#3a3a3a"}, {"offset": 0.4667, "color": "#c8c8c8"}, {"offset": 0.5, "color": "#c8c8c8"}, {"offset": 0.5, "color": "#3a3a3a"}, {"offset": 0.55, "color": "#3a3a3a"}, {"offset": 0.55, "color": "#c8c8c8"}, {"offset": 0.5833, "color": "#c8c8c8"}, {"offset": 0.5833, "color": "#3a3a3a"}, {"offset": 0.6333, "color": "#3a3a3a"}, {"offset": 0.6333, "color": "#c8c8c8"}, {"offset": 0.6667, "color": "#c8c8c8"}, {"offset": 0.6667, "color": "#3a3a3a"}, {"offset": 0.7167, "color": "#3a3a3a"}, {"offset": 0.7167, "color": "#c8c8c8"}, {"offset": 0.75, "color": "#c8c8c8"}, {"offset": 0.75, "color": "#3a3a3a"}, {"offset": 0.8, "color": "#3a3a3a"}, {"offset": 0.8, "color": "#c8c8c8"}, {"offset": 0.8333, "color": "#c8c8c8"}, {"offset": 0.8333, "color": "#3a3a3a"}, {"offset": 0.8833, "color": "#3a3a3a"}, {"offset": 0.8833, "color": "#c8c8c8"}, {"offset": 0.9167, "color": "#c8c8c8"}, {"offset": 0.9167, "color": "#3a3a3a"}, {"offset": 0.9667, "color": "#3a3a3a"}, {"offset": 0.9667, "color": "#c8c8c8"}, {"offset": 1, "color": "#c8c8c8"}]}},
         "encoding": {"y": {"field": "mean", "type": "quantitative", "axis": null}}},
        {"data": {"name": "bars"}, "transform": [{"filter": "datum.panel === 'E'"}],
         "mark": {"type": "errorbar", "ticks": {"size": 9}, "color": "#555", "thickness": 1},
         "encoding": {"y": {"field": "lo", "type": "quantitative", "axis": null}, "y2": {"field": "hi"}}},
        {"data": {"name": "ann"}, "transform": [{"filter": "datum.panel === 'E' && datum.lvl === 0"}, {"lookup": "id", "from": {"data": {"name": "bars"}, "key": "id", "fields": ["hi", "group"]}}],
         "mark": {"type": "text", "style": "ann", "dy": -3},
         "encoding": {"y": {"field": "hi", "type": "quantitative", "axis": null}, "text": {"field": "sym"},
           "fontSize": {"condition": [{"test": "indexof(datum.sym,'^')>=0", "value": 15}, {"test": "indexof(datum.sym,'*')>=0", "value": 12}, {"test": "indexof(datum.sym,'#')>=0", "value": 9}], "value": 8},
           "color": {"condition": {"test": "indexof(datum.sym,'#')>=0 || indexof(datum.sym,'○')>=0", "value": "#555555"}, "value": "#111111"}}},
        {"data": {"name": "ann"}, "transform": [{"filter": "datum.panel === 'E' && datum.lvl === 1"}, {"lookup": "id", "from": {"data": {"name": "bars"}, "key": "id", "fields": ["hi", "group"]}}],
         "mark": {"type": "text", "style": "ann", "dy": -16},
         "encoding": {"y": {"field": "hi", "type": "quantitative", "axis": null}, "text": {"field": "sym"},
           "fontSize": {"condition": [{"test": "indexof(datum.sym,'^')>=0", "value": 15}, {"test": "indexof(datum.sym,'*')>=0", "value": 12}, {"test": "indexof(datum.sym,'#')>=0", "value": 9}], "value": 8},
           "color": {"condition": {"test": "indexof(datum.sym,'#')>=0 || indexof(datum.sym,'○')>=0", "value": "#555555"}, "value": "#111111"}}}
      ]
    },
    {
      "width": 193, "height": 162,
      "resolve": {"axis": {"y": "independent"}},
      "encoding": {"x": {"field": "group", "type": "nominal", "scale": {"domain": ["C-ND","C-HFD","3xTg-ND","3xTg-HFD","3xTg-HFD+INI"], "paddingInner": 0.23, "paddingOuter": 0.37}, "axis": {"title": null, "labelAngle": -55, "labelFontSize": 11, "labelColor": "#111", "labelPadding": 3, "ticks": false, "domainColor": "#aaaaaa", "domainWidth": 1.2}}},
      "layer": [
        {"data": {"name": "bars"}, "transform": [{"filter": "datum.panel === 'F' && datum.group !== '3xTg-HFD+INI'"}],
         "mark": {"type": "bar", "strokeWidth": 1},
         "encoding": {
           "y": {"field": "mean", "type": "quantitative", "scale": {"domain": [0, 6.66], "nice": false}, "axis": {"title": "F", "values": [0,1,2,3,4,5,6], "titleAngle": 0, "titleX": -22, "titleY": -9, "titleAlign": "left", "titleBaseline": "alphabetic", "titleFontSize": 12.5, "titleFontWeight": "bold", "titleColor": "#000"}},
           "fill": {"field": "group", "type": "nominal", "scale": {"domain": ["C-ND","C-HFD","3xTg-ND","3xTg-HFD","3xTg-HFD+INI"], "range": ["#ffffff","#000000","#c8c8c8","#606060","#666666"]}, "legend": null},
           "stroke": {"field": "group", "type": "nominal", "scale": {"domain": ["C-ND","C-HFD","3xTg-ND","3xTg-HFD","3xTg-HFD+INI"], "range": ["#8c8c8c","#000000","#9a9a9a","#505050","#3a3a3a"]}, "legend": null}}},
        {"data": {"name": "bars"}, "transform": [{"filter": "datum.panel === 'F' && datum.group === '3xTg-HFD+INI'"}],
         "mark": {"type": "bar", "stroke": "#3a3a3a", "strokeWidth": 1, "fill": {"gradient": "linear", "x1": 0, "y1": 0, "x2": 1, "y2": 0, "stops": [{"offset": 0, "color": "#3a3a3a"}, {"offset": 0.05, "color": "#3a3a3a"}, {"offset": 0.05, "color": "#c8c8c8"}, {"offset": 0.0833, "color": "#c8c8c8"}, {"offset": 0.0833, "color": "#3a3a3a"}, {"offset": 0.1333, "color": "#3a3a3a"}, {"offset": 0.1333, "color": "#c8c8c8"}, {"offset": 0.1667, "color": "#c8c8c8"}, {"offset": 0.1667, "color": "#3a3a3a"}, {"offset": 0.2167, "color": "#3a3a3a"}, {"offset": 0.2167, "color": "#c8c8c8"}, {"offset": 0.25, "color": "#c8c8c8"}, {"offset": 0.25, "color": "#3a3a3a"}, {"offset": 0.3, "color": "#3a3a3a"}, {"offset": 0.3, "color": "#c8c8c8"}, {"offset": 0.3333, "color": "#c8c8c8"}, {"offset": 0.3333, "color": "#3a3a3a"}, {"offset": 0.3833, "color": "#3a3a3a"}, {"offset": 0.3833, "color": "#c8c8c8"}, {"offset": 0.4167, "color": "#c8c8c8"}, {"offset": 0.4167, "color": "#3a3a3a"}, {"offset": 0.4667, "color": "#3a3a3a"}, {"offset": 0.4667, "color": "#c8c8c8"}, {"offset": 0.5, "color": "#c8c8c8"}, {"offset": 0.5, "color": "#3a3a3a"}, {"offset": 0.55, "color": "#3a3a3a"}, {"offset": 0.55, "color": "#c8c8c8"}, {"offset": 0.5833, "color": "#c8c8c8"}, {"offset": 0.5833, "color": "#3a3a3a"}, {"offset": 0.6333, "color": "#3a3a3a"}, {"offset": 0.6333, "color": "#c8c8c8"}, {"offset": 0.6667, "color": "#c8c8c8"}, {"offset": 0.6667, "color": "#3a3a3a"}, {"offset": 0.7167, "color": "#3a3a3a"}, {"offset": 0.7167, "color": "#c8c8c8"}, {"offset": 0.75, "color": "#c8c8c8"}, {"offset": 0.75, "color": "#3a3a3a"}, {"offset": 0.8, "color": "#3a3a3a"}, {"offset": 0.8, "color": "#c8c8c8"}, {"offset": 0.8333, "color": "#c8c8c8"}, {"offset": 0.8333, "color": "#3a3a3a"}, {"offset": 0.8833, "color": "#3a3a3a"}, {"offset": 0.8833, "color": "#c8c8c8"}, {"offset": 0.9167, "color": "#c8c8c8"}, {"offset": 0.9167, "color": "#3a3a3a"}, {"offset": 0.9667, "color": "#3a3a3a"}, {"offset": 0.9667, "color": "#c8c8c8"}, {"offset": 1, "color": "#c8c8c8"}]}},
         "encoding": {"y": {"field": "mean", "type": "quantitative", "axis": null}}},
        {"data": {"name": "bars"}, "transform": [{"filter": "datum.panel === 'F'"}],
         "mark": {"type": "errorbar", "ticks": {"size": 9}, "color": "#555", "thickness": 1},
         "encoding": {"y": {"field": "lo", "type": "quantitative", "axis": null}, "y2": {"field": "hi"}}},
        {"data": {"name": "ann"}, "transform": [{"filter": "datum.panel === 'F' && datum.lvl === 0"}, {"lookup": "id", "from": {"data": {"name": "bars"}, "key": "id", "fields": ["hi", "group"]}}],
         "mark": {"type": "text", "style": "ann", "dy": -3},
         "encoding": {"y": {"field": "hi", "type": "quantitative", "axis": null}, "text": {"field": "sym"},
           "fontSize": {"condition": [{"test": "indexof(datum.sym,'^')>=0", "value": 15}, {"test": "indexof(datum.sym,'*')>=0", "value": 12}, {"test": "indexof(datum.sym,'#')>=0", "value": 9}], "value": 8},
           "color": {"condition": {"test": "indexof(datum.sym,'#')>=0 || indexof(datum.sym,'○')>=0", "value": "#555555"}, "value": "#111111"}}},
        {"data": {"name": "ann"}, "transform": [{"filter": "datum.panel === 'F' && datum.lvl === 1"}, {"lookup": "id", "from": {"data": {"name": "bars"}, "key": "id", "fields": ["hi", "group"]}}],
         "mark": {"type": "text", "style": "ann", "dy": -16},
         "encoding": {"y": {"field": "hi", "type": "quantitative", "axis": null}, "text": {"field": "sym"},
           "fontSize": {"condition": [{"test": "indexof(datum.sym,'^')>=0", "value": 15}, {"test": "indexof(datum.sym,'*')>=0", "value": 12}, {"test": "indexof(datum.sym,'#')>=0", "value": 9}], "value": 8},
           "color": {"condition": {"test": "indexof(datum.sym,'#')>=0 || indexof(datum.sym,'○')>=0", "value": "#555555"}, "value": "#111111"}}}
      ]
    }
  ],
  "config": {
    "font": "Liberation Sans",
    "view": {"stroke": null},
    "axis": {"grid": false, "labelFont": "Liberation Sans", "titleFont": "Liberation Sans"},
    "axisY": {"domainColor": "#9a9a9a", "tickColor": "#9a9a9a", "tickSize": 3, "labelFontSize": 7, "labelColor": "#555", "labelPadding": 1.5},
    "title": {"font": "Liberation Sans", "fontSize": 12.7, "fontWeight": "normal", "color": "#111", "baseline": "alphabetic", "lineHeight": 14},
    "style": {
      "ann": {"font": "Liberation Sans", "baseline": "alphabetic", "align": "center"}
    }
  }
}
